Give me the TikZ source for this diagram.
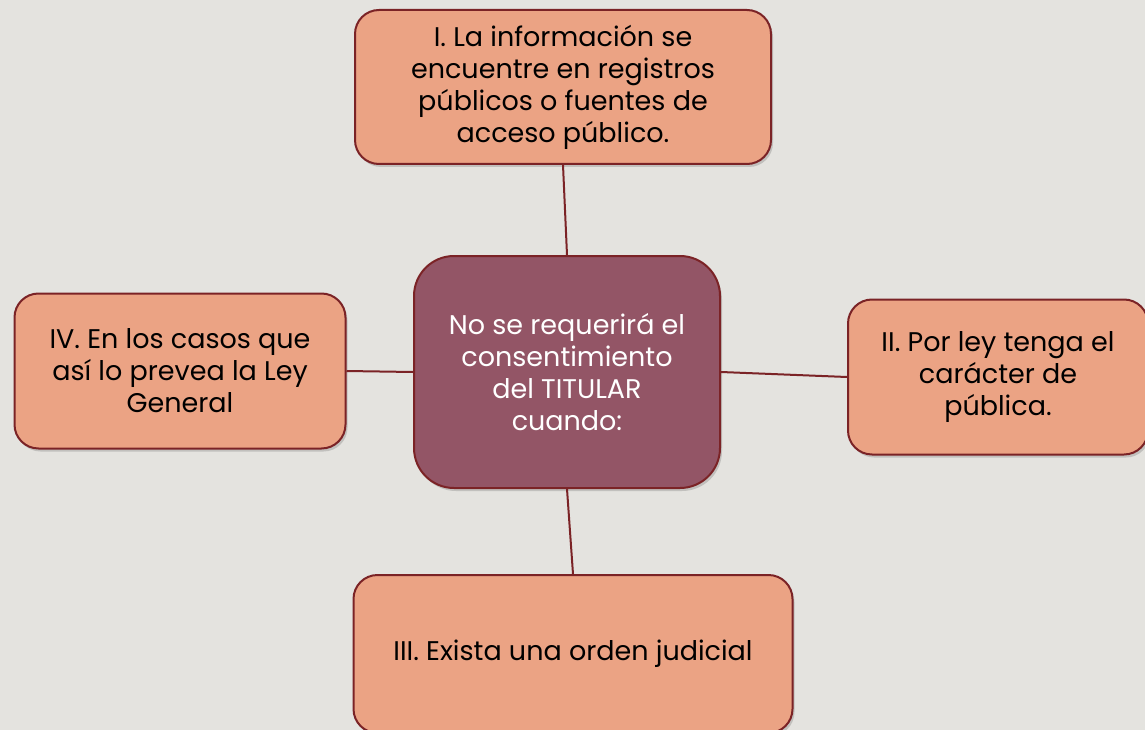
\documentclass[tikz,border=0pt]{standalone}
\usepackage{fontspec}
\setmainfont{Poppins}
\usetikzlibrary{shadows}

\definecolor{fondo}{HTML}{E4E3DF}
\definecolor{salmon}{HTML}{EBA384}
\definecolor{vino}{HTML}{7B2326}
\definecolor{malva}{HTML}{935566}

\tikzset{
  caso/.style={draw=vino,line width=2pt,fill=salmon,rounded corners=24pt,
    align=center,inner sep=0pt,font=\fontsize{27}{32}\selectfont,
    drop shadow={opacity=.35,shadow xshift=2pt,shadow yshift=-3pt}},
  centro/.style={caso,fill=malva,text=white,rounded corners=40pt},
  enlace/.style={draw=vino,line width=2pt}
}

\begin{document}
\begin{tikzpicture}[x=1pt,y=-1pt]
		\fill[fondo] (0,0) rectangle (1145,730);
		\useasboundingbox (0,0) rectangle (1145,730);
		\node[centro,minimum width=306pt,minimum height=232pt] (ctr) at (567,372) {No se requerirá el\\consentimiento\\del TITULAR\\cuando:};
		\node[caso,minimum width=416pt,minimum height=154pt] (I) at (563,87) {I. La información se\\encuentre en registros\\públicos o fuentes de\\acceso público.};
		\node[caso,minimum width=300pt,minimum height=155pt] (II) at (998,377) {II. Por ley tenga el\\carácter de\\pública.};
		\node[caso,minimum width=439pt,minimum height=158pt] (III) at (573,654) {III. Exista una orden judicial};
		\node[caso,minimum width=331pt,minimum height=155pt] (IV) at (180,371) {IV. En los casos que\\así lo prevea la Ley\\General};

		\draw[enlace] (I.south) -- (ctr.north);
		\draw[enlace] (ctr.east) -- (II.west);
		\draw[enlace] (ctr.south) -- (III.north);
		\draw[enlace] (IV.east) -- (ctr.west);
\end{tikzpicture}
\end{document}
